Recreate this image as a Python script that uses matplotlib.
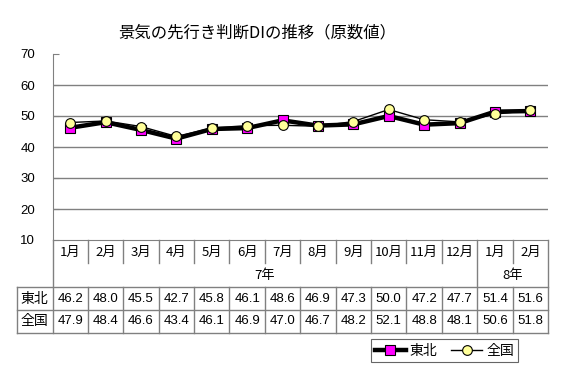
import matplotlib
matplotlib.use("Agg")
import matplotlib.pyplot as plt
from matplotlib import transforms
from matplotlib.lines import Line2D

plt.rcParams['font.family'] = ['Noto Sans CJK JP', 'DejaVu Sans']

title = "景気の先行き判断DIの推移（原数値）"
months = ["1月", "2月", "3月", "4月", "5月", "6月", "7月", "8月", "9月", "10月", "11月", "12月", "1月", "2月"]
years = ["7年", "8年"]
year_spans = [12, 2]
series_names = ["東北", "全国"]
tohoku = [46.2, 48.0, 45.5, 42.7, 45.8, 46.1, 48.6, 46.9, 47.3, 50.0, 47.2, 47.7, 51.4, 51.6]
zenkoku = [47.9, 48.4, 46.6, 43.4, 46.1, 46.9, 47.0, 46.7, 48.2, 52.1, 48.8, 48.1, 50.6, 51.8]
yticks = [10, 20, 30, 40, 50, 60, 70]

W, H = 564, 382
fig = plt.figure(figsize=(W / 100, H / 100), dpi=100)
fig.patch.set_facecolor("white")

def fx(px):
    return px / W

def fy(py):
    return 1 - py / H

left, right, top, bottom = 52.5, 548, 54, 240
ax = fig.add_axes([fx(left), fy(bottom), fx(right) - fx(left), fy(top) - fy(bottom)])
n = len(months)
ax.set_xlim(0, n)
ax.set_ylim(10, 70)
ax.set_yticks(yticks)
ax.set_xticks([])
for s in ["top", "right"]:
    ax.spines[s].set_visible(False)
ax.spines["left"].set_color("#808080")
ax.spines["bottom"].set_color("#808080")
ax.tick_params(axis="y", direction="in", length=4, color="#808080", labelsize=9.5, pad=12.5)
for lab in ax.get_yticklabels():
    lab.set_family(["Liberation Sans", "DejaVu Sans"])
ax.yaxis.grid(True, color="#808080", linewidth=1)
ax.set_axisbelow(True)
gl = ax.yaxis.get_gridlines()
gl[-1].set_visible(False)
gl[0].set_visible(False)

xs = [i + 0.5 for i in range(n)]
ax.plot(xs, tohoku, color="black", linewidth=3.2, marker="s", markersize=6.5,
        markerfacecolor="#FF00FF", markeredgecolor="black", markeredgewidth=0.8,
        label=series_names[0], zorder=3, clip_on=False)
ax.plot(xs, zenkoku, color="black", linewidth=1.0, marker="o", markersize=7,
        markerfacecolor="#FFFF99", markeredgecolor="black", markeredgewidth=0.8,
        label=series_names[1], zorder=4, clip_on=False)

fig.text(fx(257), fy(33), title, ha="center", va="center", fontsize=11.8)

# Table
tr = transforms.blended_transform_factory(ax.transData, fig.transFigure)
lc = "#808080"
lw = 1.0
y_top, y_mon, y_year, y_r1, y_r2 = 240, 263, 287, 309.5, 332.5
tab_left = 17

def vline(x, y0, y1):
    fig.add_artist(Line2D([x, x], [fy(y0), fy(y1)], transform=tr, color=lc, lw=lw))

for yy in (y_year, y_r1, y_r2):
    fig.add_artist(Line2D([fx(tab_left), fx(right)], [fy(yy), fy(yy)], transform=fig.transFigure, color=lc, lw=lw))
fig.add_artist(Line2D([fx(tab_left), fx(tab_left)], [fy(y_year), fy(y_r2)], transform=fig.transFigure, color=lc, lw=lw))
vline(0, y_top, y_r2)
vline(n, y_top, y_r2)

boundaries = []
acc = 0
for s in year_spans:
    acc += s
    boundaries.append(acc)
for i in range(1, n):
    if i in boundaries:
        vline(i, y_top, y_r2)
    else:
        vline(i, y_top, y_mon)
        vline(i, y_year, y_r2)

for i, m in enumerate(months):
    fig.text(i + 0.5, fy((y_top + y_mon) / 2 + 1), m, transform=tr, ha="center", va="center", fontsize=9.5)
start = 0
for yl, s in zip(years, year_spans):
    fig.text(start + s / 2, fy((y_mon + y_year) / 2 + 1), yl, transform=tr, ha="center", va="center", fontsize=9.5)
    start += s
for row, (name, vals) in enumerate([(series_names[0], tohoku), (series_names[1], zenkoku)]):
    yc = (y_year + y_r1) / 2 + 0.5 if row == 0 else (y_r1 + y_r2) / 2 + 0.5
    fig.text(fx((tab_left + left) / 2), fy(yc), name, ha="center", va="center", fontsize=10)
    for i, v in enumerate(vals):
        fig.text(i + 0.5, fy(yc), f"{v:.1f}", transform=tr, ha="center", va="center", fontsize=9.5,
                 family=["Liberation Sans", "DejaVu Sans"])

handles, labels = ax.get_legend_handles_labels()
leg = fig.legend(handles, labels, loc="center", bbox_to_anchor=(fx(444.5), fy(350.5)), ncol=2,
                 frameon=True, fancybox=False, edgecolor="#404040", fontsize=10,
                 handlelength=2.2, handletextpad=0.3, columnspacing=1.0, borderpad=0.3)
leg.get_frame().set_linewidth(0.8)

fig.savefig("out.png", dpi=100, facecolor="white")
